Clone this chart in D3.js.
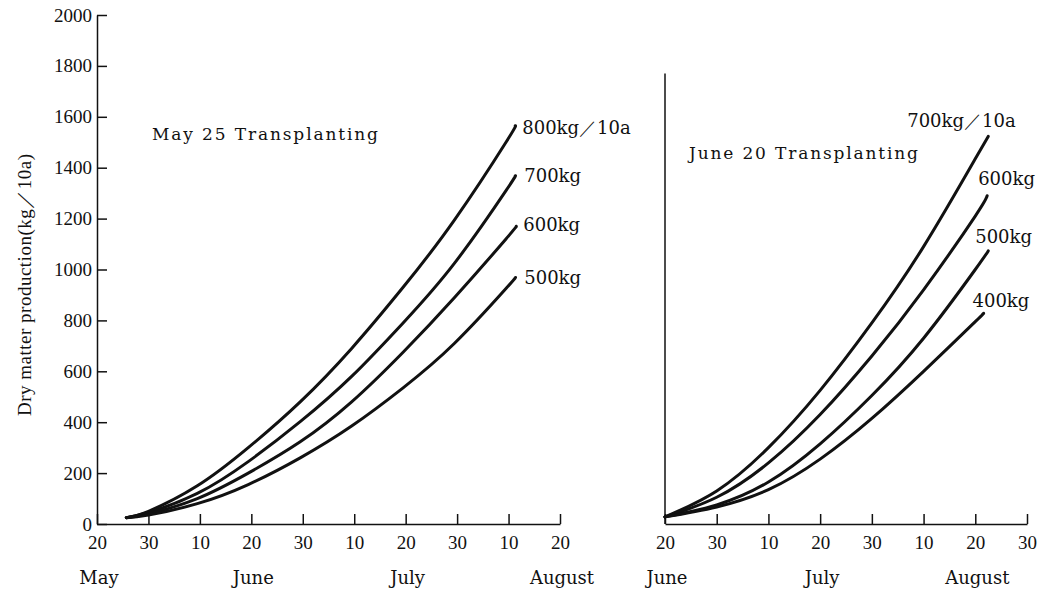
<!DOCTYPE html>
<html lang="en">

<head>
    <meta charset="utf-8">
    <script type="text/javascript" src="https://cdn.jsdelivr.net/npm/d3@7"></script>
    <style>
        body { margin: 0; background: #fff; }
        .num { font-family: "Liberation Serif", serif; font-size: 19px; fill: #111; }
        .word { font-family: "DejaVu Serif", serif; font-size: 17px; fill: #111; }
    </style>
</head>

<body>
    <script type="text/javascript">

        // y axis (shared by both panels)
        let yTicks = [0, 200, 400, 600, 800, 1000, 1200, 1400, 1600, 1800, 2000];
        let rightAxisTop = 1770;

        // x axes: one notch every ten days, drawn evenly spaced
        let leftTicks = ["20", "30", "10", "20", "30", "10", "20", "30", "10", "20"];
        let leftMonths = [["May", 0], ["June", 3], ["July", 6], ["August", 9]];
        let rightTicks = ["20", "30", "10", "20", "30", "10", "20", "30"];
        let rightMonths = [["June", 0], ["July", 3], ["August", 6]];

        // May 25 transplanting, [notch position, kg/10a]
        let may800 = [[0.57, 25], [1, 50], [1.95, 150], [2.94, 300], [3.95, 480], [4.95, 690], [5.95, 930], [6.95, 1195], [7.95, 1500], [8.13, 1565]];
        let may700 = [[0.57, 25], [1, 45], [1.95, 120], [2.94, 245], [3.95, 402], [4.95, 580], [5.95, 790], [6.95, 1025], [7.95, 1310], [8.13, 1368]];
        let may600 = [[0.57, 25], [1, 40], [1.95, 100], [2.94, 200], [3.95, 323], [4.95, 480], [5.95, 675], [6.95, 890], [7.95, 1120], [8.15, 1170]];
        let may500 = [[0.57, 25], [1, 35], [1.95, 80], [2.94, 155], [3.95, 260], [4.95, 385], [5.95, 535], [6.95, 710], [7.95, 925], [8.13, 968]];

        // June 20 transplanting
        let jun700 = [[0, 28], [1, 130], [2, 300], [3, 525], [4, 790], [5, 1090], [6, 1435], [6.25, 1523]];
        let jun600 = [[0, 28], [1, 105], [2, 240], [3, 430], [4, 660], [5, 920], [6, 1210], [6.23, 1290]];
        let jun500 = [[0, 28], [1, 75], [2, 165], [3, 315], [4, 505], [5, 730], [6, 1000], [6.25, 1073]];
        let jun400 = [[0, 28], [1, 67], [2, 135], [3, 255], [4, 415], [5, 600], [6, 795], [6.14, 824]];

        let leftLabels = ["800kg／10a", "700kg", "600kg", "500kg"];
        let rightLabels = ["700kg／10a", "600kg", "500kg", "400kg"];

        let w = 1042;
        let h = 596;

        let svg = d3.select("body").append("svg")
            .attr("width", w)
            .attr("height", h);

        let y = d3.scaleLinear().domain([0, 2000]).range([524, 15]);
        let xL = d3.scaleLinear().domain([0, leftTicks.length - 1]).range([97, 560]);
        let xR = d3.scaleLinear().domain([0, rightTicks.length - 1]).range([665, 1027]);

        // left y axis, ticks pointing inward
        let yAxis = svg.append("g")
            .attr("transform", "translate(" + xL(0) + ",0)")
            .call(d3.axisLeft(y).tickValues(yTicks).tickFormat(d3.format("d"))
                .tickSize(-10).tickSizeOuter(0).tickPadding(5));
        yAxis.selectAll("text").attr("class", "num");

        // right panel: plain vertical line
        svg.append("line")
            .attr("x1", xR(0)).attr("x2", xR(0))
            .attr("y1", y(0)).attr("y2", y(rightAxisTop))
            .attr("stroke", "#111").attr("stroke-width", 1.5);

        function xAxis(x, ticks) {
            let g = svg.append("g")
                .attr("transform", "translate(0," + y(0) + ")")
                .call(d3.axisBottom(x).tickValues(d3.range(ticks.length))
                    .tickFormat(function (d) { return ticks[d]; })
                    .tickSize(-10).tickSizeOuter(0).tickPadding(12));
            g.selectAll("text").attr("class", "num");
            return g;
        }
        xAxis(xL, leftTicks);
        xAxis(xR, rightTicks);

        svg.selectAll(".domain, .tick line").attr("stroke", "#111").attr("stroke-width", 1.5);

        function months(x, list) {
            svg.append("g").selectAll("text")
                .data(list)
                .join("text")
                .attr("class", "word")
                .style("font-size", "18px")
                .attr("x", function (d) { return x(d[1]) + 2; })
                .attr("y", 584)
                .attr("text-anchor", "middle")
                .text(function (d) { return d[0]; });
        }
        months(xL, leftMonths);
        months(xR, rightMonths);

        let line = function (x) {
            return d3.line()
                .x(function (d) { return x(d[0]); })
                .y(function (d) { return y(d[1]); })
                .curve(d3.curveNatural);
        };

        let leftSeries = [may800, may700, may600, may500];
        let rightSeries = [jun700, jun600, jun500, jun400];

        svg.append("g").selectAll("path")
            .data(leftSeries)
            .join("path")
            .attr("d", line(xL))
            .attr("fill", "none")
            .attr("stroke", "#111")
            .attr("stroke-width", 3)
            .attr("stroke-linecap", "round");

        svg.append("g").selectAll("path")
            .data(rightSeries)
            .join("path")
            .attr("d", line(xR))
            .attr("fill", "none")
            .attr("stroke", "#111")
            .attr("stroke-width", 3)
            .attr("stroke-linecap", "round");

        // curve end labels
        function endLabels(x, series, labels, dx, dy) {
            svg.append("g").selectAll("text")
                .data(series)
                .join("text")
                .attr("class", "word")
                .style("font-size", "18px")
                .attr("x", function (d, i) { return x(d[d.length - 1][0]) + dx[i]; })
                .attr("y", function (d, i) { return y(d[d.length - 1][1]) + dy[i]; })
                .text(function (d, i) { return labels[i]; });
        }
        endLabels(xL, leftSeries, leftLabels, [7, 9, 7, 9], [8, 6, 5, 6]);
        endLabels(xR, rightSeries, rightLabels, [-81, -9, -13, -10], [-9, -11, -8, -7]);

        // panel titles
        svg.append("text").attr("class", "word")
            .attr("x", 152).attr("y", 140)
            .attr("textLength", 226)
            .text("May 25 Transplanting");

        svg.append("text").attr("class", "word")
            .attr("x", 689).attr("y", 159)
            .attr("textLength", 229)
            .text("June 20 Transplanting");

        // y axis title
        svg.append("text")
            .attr("transform", "translate(31,285) rotate(-90)")
            .attr("text-anchor", "middle")
            .attr("textLength", 262)
            .style("font-family", "'Liberation Serif', serif")
            .style("font-size", "19px")
            .attr("fill", "#111")
            .text("Dry matter production(kg／10a)");

    </script>
</body>

</html>
